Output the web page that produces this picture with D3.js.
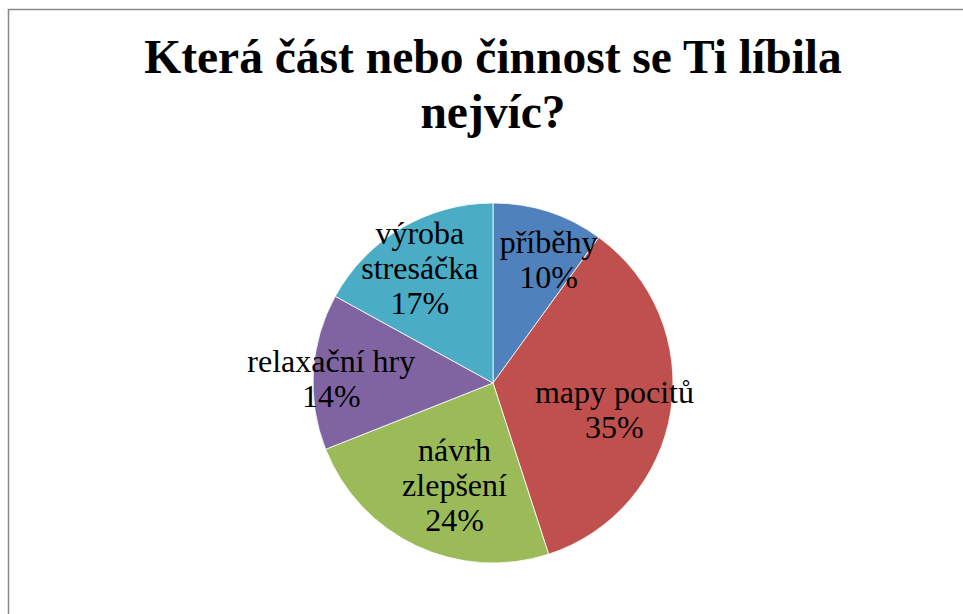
<!DOCTYPE html>
<html>
<head>
<meta charset="utf-8">
<script src="https://cdn.jsdelivr.net/npm/d3@7"></script>
<style>
  html, body { margin: 0; padding: 0; background: #fff; }
  svg { display: block; }
</style>
</head>
<body>
<svg id="chart" width="963" height="614"></svg>
<script>
// ---- data ----
const titleLines = ["Která část nebo činnost se Ti líbila", "nejvíc?"];
const categories = ["příběhy", "mapy pocitů", "návrh zlepšení", "relaxační hry", "výroba stresáčka"];
const values = [10, 35, 24, 14, 17];
const colors = ["#4F81BD", "#C0504D", "#9BBB59", "#8064A2", "#4BACC6"];

// ---- layout (not data) ----
const wrapLabel = [false, false, true, false, true];
const labelNudge = [[16, -2], [-5, 6], [16, -14], [-34, 4], [-8, -5]];
const FONT = "Liberation Serif";

const svg = d3.select("#chart");
const W = 963, H = 614;
const cx = 493, cy = 383, R = 180;

// frame
svg.append("rect")
  .attr("x", 8.5).attr("y", 9.5)
  .attr("width", W + 10).attr("height", H + 10)
  .attr("fill", "none").attr("stroke", "#8a8a8a").attr("stroke-width", 1.5);

// title
svg.append("g").selectAll("text").data(titleLines).join("text")
  .attr("x", 493)
  .attr("y", (d, i) => 73 + i * 55)
  .attr("text-anchor", "middle")
  .attr("font-family", FONT)
  .attr("font-weight", "bold")
  .attr("font-size", 47.5)
  .attr("fill", "#000")
  .text(d => d);

const total = d3.sum(values);
const pie = d3.pie().sort(null).value(d => d.v);
const data = pie(categories.map((c, i) => ({ c, v: values[i], i })));

const arc = d3.arc().innerRadius(0).outerRadius(R);
const labelArc = d3.arc().innerRadius(128).outerRadius(128);

const g = svg.append("g").attr("transform", `translate(${cx},${cy})`);

g.selectAll("path").data(data).join("path")
  .attr("d", arc)
  .attr("fill", d => colors[d.data.i])
  .attr("stroke", "#fff")
  .attr("stroke-width", 0.8);

const fs = 32, lh = 35;
const lineData = [];
data.forEach(d => {
  const i = d.data.i;
  const [x0, y0] = labelArc.centroid(d);
  const x = x0 + labelNudge[i][0];
  const y = y0 + labelNudge[i][1];
  const pct = Math.round(d.data.v / total * 100) + "%";
  const lines = (wrapLabel[i] ? d.data.c.split(" ") : [d.data.c]).concat([pct]);
  const first = y - (lines.length - 1) * lh / 2 + 11;
  lines.forEach((t, k) => lineData.push({ t, x, y: first + k * lh }));
});

g.selectAll("text.lbl").data(lineData).join("text")
  .attr("class", "lbl")
  .attr("x", d => d.x)
  .attr("y", d => d.y)
  .attr("text-anchor", "middle")
  .attr("font-family", FONT)
  .attr("font-size", fs)
  .attr("fill", "#000")
  .text(d => d.t);
</script>
</body>
</html>
